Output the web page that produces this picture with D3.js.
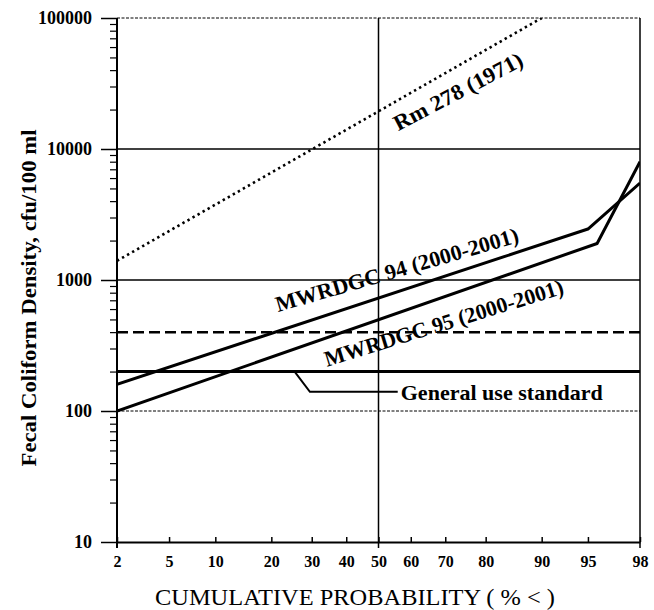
<!DOCTYPE html>
<html>
<head>
<meta charset="utf-8">
<script src="https://cdn.jsdelivr.net/npm/d3@7"></script>
<style>
  body { margin: 0; background: #fff; }
  text { font-family: "Liberation Serif", "Times New Roman", serif; fill: #000; }
</style>
</head>
<body>
<div id="app"></div>
<script>
// probability axis ticks (% <) and density axis ticks
var probTicks = [2, 5, 10, 20, 30, 40, 50, 60, 70, 80, 90, 95, 98];
var densityTicks = [10, 100, 1000, 10000, 100000];

// series
var rmProb = [2, 90];
var rmValue = [1400, 100000];
var mw94Prob = [2, 95, 98];
var mw94Value = [160, 2450, 5500];
var mw95Prob = [2, 95.7, 98];
var mw95Value = [100, 1900, 8000];

// horizontal reference levels
var generalUse = 200;
var dashedLevel = 400;

// callout for the general use standard
var calloutProb = [25.5, 29.5, 56];
var calloutValue = [200, 140, 140];

var width = 654,
    height = 610,
    margin = { top: 18, right: 14, bottom: 68, left: 117 },
    innerW = width - margin.left - margin.right,
    innerH = height - margin.top - margin.bottom;

// inverse normal cdf (Acklam)
function probit(pct) {
    var p = pct / 100;
    var a = [-39.69683028665376, 220.9460984245205, -275.9285104469687, 138.3577518672690, -30.66479806614716, 2.506628277459239];
    var b = [-54.47609879822406, 161.5858368580409, -155.6989798598866, 66.80131188771972, -13.28068155288572];
    var c = [-0.007784894002430293, -0.3223964580411365, -2.400758277161838, -2.549732539343734, 4.374664141464968, 2.938163982698783];
    var d = [0.007784695709041462, 0.3224671290700398, 2.445134137142996, 3.754408661907416];
    var pl = 0.02425, q, r;
    if (p < pl) {
        q = Math.sqrt(-2 * Math.log(p));
        return (((((c[0] * q + c[1]) * q + c[2]) * q + c[3]) * q + c[4]) * q + c[5]) /
            ((((d[0] * q + d[1]) * q + d[2]) * q + d[3]) * q + 1);
    }
    if (p > 1 - pl) {
        q = Math.sqrt(-2 * Math.log(1 - p));
        return -(((((c[0] * q + c[1]) * q + c[2]) * q + c[3]) * q + c[4]) * q + c[5]) /
            ((((d[0] * q + d[1]) * q + d[2]) * q + d[3]) * q + 1);
    }
    q = p - 0.5;
    r = q * q;
    return (((((a[0] * r + a[1]) * r + a[2]) * r + a[3]) * r + a[4]) * r + a[5]) * q /
        (((((b[0] * r + b[1]) * r + b[2]) * r + b[3]) * r + b[4]) * r + 1);
}

var zScale = d3.scaleLinear()
    .domain([probit(2), probit(98)])
    .range([0, innerW]);
var x = function (p) { return zScale(probit(p)); };

var y = d3.scaleLog()
    .domain([10, 100000])
    .range([innerH, 0]);

var svg = d3.select('#app')
    .append('svg')
    .attr('width', width)
    .attr('height', height);

var g = svg.append('g')
    .attr('transform', 'translate(' + margin.left + ',' + margin.top + ')');

g.append('clipPath')
    .attr('id', 'plot-clip')
    .append('rect')
    .attr('width', innerW)
    .attr('height', innerH);

// horizontal grid
g.selectAll('.hgrid')
    .data([1000, 10000])
    .enter()
    .append('line')
    .attr('x1', 0)
    .attr('x2', innerW)
    .attr('y1', function (d) { return y(d); })
    .attr('y2', function (d) { return y(d); })
    .attr('stroke', '#000')
    .attr('stroke-width', 1.5);

g.selectAll('.hgrid-light')
    .data([100, 100000])
    .enter()
    .append('line')
    .attr('x1', 0)
    .attr('x2', innerW)
    .attr('y1', function (d) { return y(d); })
    .attr('y2', function (d) { return y(d); })
    .attr('stroke', '#000')
    .attr('stroke-width', 1)
    .attr('stroke-dasharray', '3,1.5');

// frame verticals: left axis, 50% line, right border
g.selectAll('.vline')
    .data([2, 50, 98])
    .enter()
    .append('line')
    .attr('x1', function (d) { return x(d); })
    .attr('x2', function (d) { return x(d); })
    .attr('y1', y(100000))
    .attr('y2', y(10) + 6)
    .attr('stroke', '#000')
    .attr('stroke-width', function (d) { return d === 2 ? 2 : 1.5; });

// y axis, major and minor ticks
var minorTicks = [];
[10, 100, 1000, 10000].forEach(function (dec) {
    for (var k = 2; k <= 9; k++) minorTicks.push(dec * k);
});

var yAxis = g.append('g')
    .call(d3.axisLeft(y).tickValues(densityTicks).tickSize(16).tickPadding(9).tickFormat(d3.format('d')));
yAxis.select('.domain').remove();
yAxis.selectAll('line').attr('stroke-width', 1.5);
yAxis.selectAll('text')
    .style('font-size', '18px')
    .style('font-weight', 'bold');

var yMinor = g.append('g')
    .call(d3.axisLeft(y).tickValues(minorTicks).tickSize(7).tickFormat(''));
yMinor.select('.domain').remove();
yMinor.selectAll('line').attr('stroke-width', 1.2);

// x axis
var xAxis = g.append('g')
    .attr('transform', 'translate(0,' + innerH + ')')
    .call(d3.axisBottom(zScale)
        .tickValues(probTicks.map(probit))
        .tickSizeInner(-5)
        .tickSizeOuter(0)
        .tickPadding(14)
        .tickFormat(function (d, i) { return probTicks[i]; }));
xAxis.select('.domain').attr('stroke-width', 2);
xAxis.selectAll('line').attr('stroke-width', 1.5);
xAxis.selectAll('text')
    .style('font-size', '16px')
    .style('font-weight', 'bold');

// series
var line = d3.line()
    .x(function (d) { return x(d[0]); })
    .y(function (d) { return y(d[1]); });

function pairs(ps, vs) {
    return ps.map(function (p, i) { return [p, vs[i]]; });
}

var plot = g.append('g').attr('clip-path', 'url(#plot-clip)');

plot.append('path')
    .datum(pairs(rmProb, rmValue))
    .attr('d', line)
    .attr('fill', 'none')
    .attr('stroke', '#000')
    .attr('stroke-width', 2.6)
    .attr('stroke-dasharray', '2.4,3.4');

plot.append('path')
    .datum(pairs([2, 98], [dashedLevel, dashedLevel]))
    .attr('d', line)
    .attr('fill', 'none')
    .attr('stroke', '#000')
    .attr('stroke-width', 2.5)
    .attr('stroke-dasharray', '11,5');

plot.append('path')
    .datum(pairs([2, 98], [generalUse, generalUse]))
    .attr('d', line)
    .attr('fill', 'none')
    .attr('stroke', '#000')
    .attr('stroke-width', 3);

[pairs(mw94Prob, mw94Value), pairs(mw95Prob, mw95Value)].forEach(function (s) {
    plot.append('path')
        .datum(s)
        .attr('d', line)
        .attr('fill', 'none')
        .attr('stroke', '#000')
        .attr('stroke-width', 3)
        .attr('stroke-linejoin', 'round');
});

plot.append('path')
    .datum(pairs(calloutProb, calloutValue))
    .attr('d', line)
    .attr('fill', 'none')
    .attr('stroke', '#000')
    .attr('stroke-width', 2);

// labels
var labels = [
    { text: 'Rm 278 (1971)', p: 74.3, v: 24500, angle: -27.8, len: 143 },
    { text: 'MWRDGC 94 (2000-2001)', p: 56.4, v: 1055, angle: -16.2, len: 252 },
    { text: 'MWRDGC 95 (2000-2001)', p: 70.2, v: 415, angle: -17.1, len: 249 }
];

labels.forEach(function (l) {
    g.append('text')
        .attr('transform', 'translate(' + x(l.p) + ',' + y(l.v) + ') rotate(' + l.angle + ')')
        .attr('text-anchor', 'middle')
        .attr('textLength', l.len)
        .attr('lengthAdjust', 'spacingAndGlyphs')
        .style('font-size', '22px')
        .style('font-weight', 'bold')
        .text(l.text);
});

g.append('text')
    .attr('x', x(calloutProb[2]) + 3)
    .attr('y', y(calloutValue[2]))
    .attr('dy', '0.35em')
    .attr('textLength', 202)
    .attr('lengthAdjust', 'spacingAndGlyphs')
    .style('font-size', '22px')
    .style('font-weight', 'bold')
    .text('General use standard');

// axis titles
svg.append('text')
    .attr('transform', 'translate(36,298) rotate(-90)')
    .attr('text-anchor', 'middle')
    .attr('textLength', 337)
    .attr('lengthAdjust', 'spacingAndGlyphs')
    .style('font-size', '22px')
    .style('font-weight', 'bold')
    .text('Fecal Coliform Density, cfu/100 ml');

svg.append('text')
    .attr('x', 355)
    .attr('y', 605)
    .attr('text-anchor', 'middle')
    .attr('textLength', 400)
    .attr('lengthAdjust', 'spacingAndGlyphs')
    .style('font-size', '24px')
    .text('CUMULATIVE PROBABILITY ( % < )');
</script>
</body>
</html>
